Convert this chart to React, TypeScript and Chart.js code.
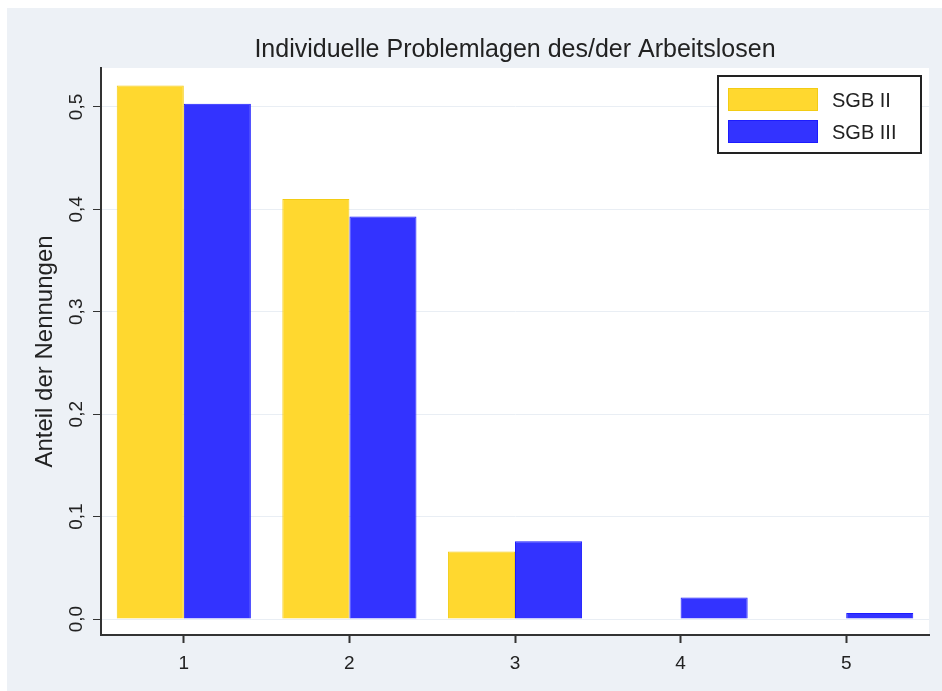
import React, { useEffect, useRef } from "react";
import { Chart, registerables } from "chart.js";

Chart.register(...registerables);

const categories = ["1", "2", "3", "4", "5"];
const sgbII = [0.521, 0.41, 0.066, 0, 0];
const sgbIII = [0.503, 0.393, 0.076, 0.021, 0.006];
const yTickValues = [0, 0.1, 0.2, 0.3, 0.4, 0.5];
const seriesNames = ["SGB II", "SGB III"];
const chartTitle = "Individuelle Problemlagen des/der Arbeitslosen";
const yAxisTitle = "Anteil der Nennungen";

const FONT = "'Liberation Sans', Arial, sans-serif";
const BG = "#edf1f6";
const TEXT = "#222222";
const AXIS = "#333333";
const YELLOW = "#ffd82f";
const YELLOW_B = "#f3cc14";
const BLUE = "#3333ff";
const BLUE_B = "#1c1cff";

const decor = {
  id: "decor",
  beforeDraw(chart: any) {
    const { ctx, chartArea: a } = chart;
    ctx.save();
    ctx.fillStyle = "#ffffff";
    ctx.fillRect(0, 0, chart.width, chart.height);
    ctx.fillStyle = BG;
    ctx.fillRect(7, 8, chart.width - 7, chart.height - 8);
    ctx.fillStyle = "#ffffff";
    ctx.fillRect(a.left, a.top, a.right - a.left, a.bottom - a.top);
    ctx.restore();
  },
  afterDraw(chart: any) {
    const { ctx, chartArea: a } = chart;
    const xs = chart.scales.x;
    const ys = chart.scales.y;
    ctx.save();
    ctx.fillStyle = TEXT;

    // title
    ctx.font = `25px ${FONT}`;
    ctx.textAlign = "center";
    ctx.textBaseline = "alphabetic";
    ctx.fillText(chartTitle, (a.left + a.right) / 2, 57);

    // x tick labels
    ctx.font = `19px ${FONT}`;
    categories.forEach((c, i) => {
      ctx.fillText(c, xs.getPixelForValue(i), a.bottom + 34);
    });

    // y tick labels (rotated)
    yTickValues.forEach((v) => {
      const y = ys.getPixelForValue(v);
      ctx.save();
      ctx.translate(a.left - 19, y);
      ctx.rotate(-Math.PI / 2);
      ctx.textAlign = "center";
      ctx.fillText(v.toFixed(1).replace(".", ","), 0, 0);
      ctx.restore();
    });

    // y axis title
    ctx.save();
    ctx.font = `24px ${FONT}`;
    ctx.translate(a.left - 49, (a.top + a.bottom) / 2);
    ctx.rotate(-Math.PI / 2);
    ctx.textAlign = "center";
    ctx.fillText(yAxisTitle, 0, 0);
    ctx.restore();

    // legend
    const lx = a.right - 211;
    const ly = a.top + 8;
    ctx.fillStyle = "#ffffff";
    ctx.fillRect(lx, ly, 203, 77);
    ctx.strokeStyle = "#222222";
    ctx.lineWidth = 2;
    ctx.strokeRect(lx, ly, 203, 77);
    const fills = [YELLOW, BLUE];
    const borders = [YELLOW_B, BLUE_B];
    seriesNames.forEach((name, i) => {
      const sy = ly + 12 + i * 32;
      ctx.fillStyle = fills[i];
      ctx.fillRect(lx + 10, sy, 90, 23);
      ctx.strokeStyle = borders[i];
      ctx.lineWidth = 1;
      ctx.strokeRect(lx + 10.5, sy + 0.5, 89, 22);
      ctx.fillStyle = TEXT;
      ctx.font = `20px ${FONT}`;
      ctx.textAlign = "left";
      ctx.textBaseline = "alphabetic";
      ctx.fillText(name, lx + 114, sy + 19);
    });
    ctx.restore();
  },
};

export default function App() {
  const ref = useRef<HTMLCanvasElement | null>(null);

  useEffect(() => {
    if (!ref.current) return;
    const bw = (ctx: any) => (ctx.raw === 0 ? 0 : 1);
    const chart = new Chart(ref.current, {
      type: "bar",
      data: {
        labels: categories,
        datasets: [
          {
            label: seriesNames[0],
            data: sgbII,
            backgroundColor: YELLOW,
            borderColor: YELLOW_B,
            borderWidth: bw as any,
            categoryPercentage: 0.81,
            barPercentage: 1.0,
          },
          {
            label: seriesNames[1],
            data: sgbIII,
            backgroundColor: BLUE,
            borderColor: BLUE_B,
            borderWidth: bw as any,
            categoryPercentage: 0.81,
            barPercentage: 1.0,
          },
        ],
      },
      options: {
        responsive: false,
        animation: false,
        devicePixelRatio: 1,
        layout: { padding: { left: 93, top: 68, right: 13, bottom: 0 } },
        plugins: {
          legend: { display: false },
          title: { display: false },
          tooltip: { enabled: false },
        },
        scales: {
          x: {
            type: "category",
            offset: true,
            grid: {
              display: true,
              drawOnChartArea: false,
              drawTicks: true,
              tickLength: 8,
              tickColor: AXIS,
              tickWidth: 2,
              offset: false,
            },
            border: { display: true, color: AXIS, width: 2 },
            ticks: { display: false },
            afterFit: (s: any) => {
              s.height = 56;
            },
          },
          y: {
            type: "linear",
            min: -0.0156,
            max: 0.538,
            grid: {
              display: true,
              color: "#e9eef4",
              lineWidth: 1,
              drawTicks: true,
              tickLength: 8,
              tickColor: AXIS,
              tickWidth: 1,
            },
            border: { display: true, color: AXIS, width: 2 },
            ticks: { display: false },
            afterBuildTicks: (s: any) => {
              s.ticks = yTickValues.map((v) => ({ value: v }));
            },
            afterFit: (s: any) => {
              s.width = 8;
            },
          },
        },
      },
      plugins: [decor],
    });
    return () => chart.destroy();
  }, []);

  return (
    <div style={{ position: "absolute", left: 0, top: 0, width: 942, height: 691 }}>
      <canvas ref={ref} width={942} height={691} style={{ display: "block" }} />
    </div>
  );
}
